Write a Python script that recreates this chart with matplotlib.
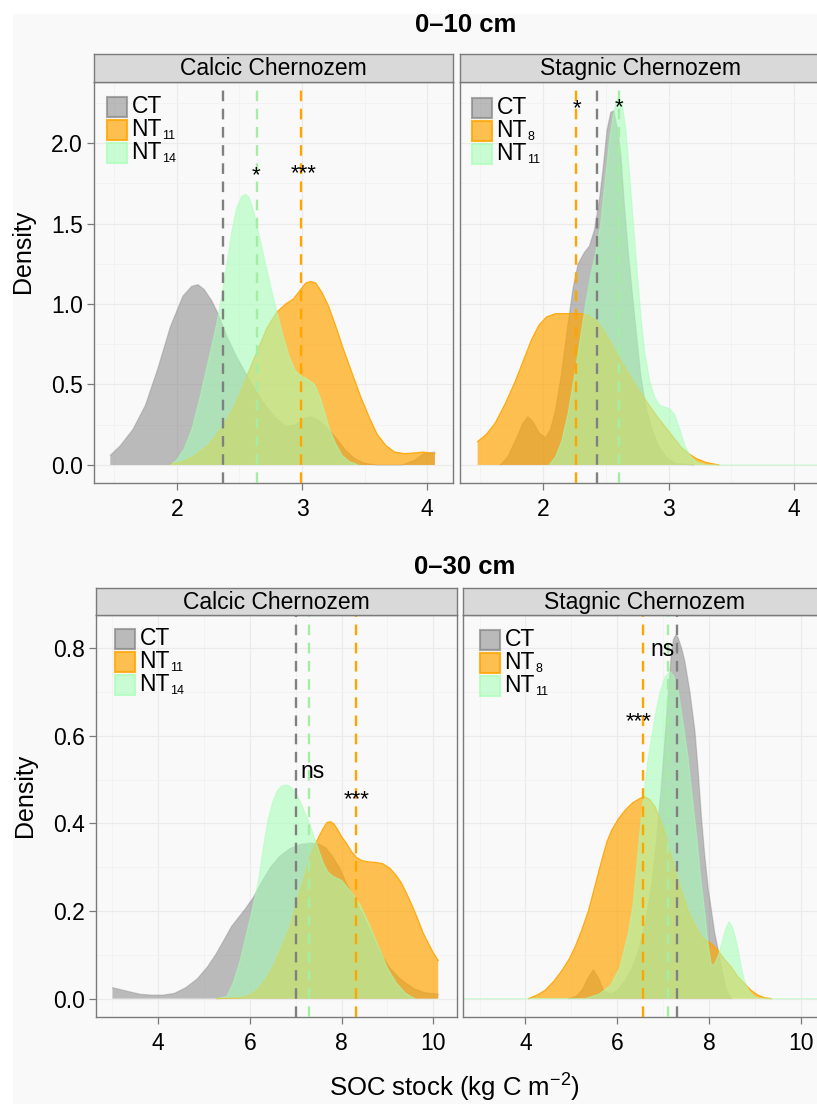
import matplotlib
matplotlib.use("Agg")
import matplotlib.pyplot as plt
from matplotlib.patches import Rectangle

plt.rcParams['font.family'] = ['Liberation Sans', 'DejaVu Sans']

# ------------------------------------------------------------------ data
# 0-10 cm, Calcic Chernozem
t_cal_ct_x = [1.47, 1.55, 1.65, 1.75, 1.85, 1.95, 2.05, 2.12, 2.17, 2.22, 2.28, 2.33, 2.40, 2.48,
              2.58, 2.68, 2.78, 2.87, 2.95, 3.02, 3.07, 3.13, 3.20, 3.27, 3.35, 3.42, 3.50, 3.60,
              3.80, 3.90, 3.97, 4.06]
t_cal_ct_y = [0.06, 0.12, 0.22, 0.37, 0.60, 0.86, 1.05, 1.11, 1.12, 1.09, 1.02, 0.94, 0.80, 0.67,
              0.53, 0.40, 0.30, 0.24, 0.25, 0.29, 0.30, 0.28, 0.23, 0.17, 0.09, 0.04, 0.01, 0.00,
              0.00, 0.03, 0.07, 0.08]
t_cal_nta_x = [1.95, 2.05, 2.15, 2.25, 2.35, 2.45, 2.52, 2.58, 2.65, 2.72, 2.80, 2.87, 2.93, 2.98,
               3.03, 3.07, 3.11, 3.16, 3.21, 3.27, 3.33, 3.40, 3.47, 3.54, 3.60, 3.67, 3.74, 3.82,
               3.90, 3.97, 4.06]
t_cal_nta_y = [0.005, 0.02, 0.06, 0.12, 0.22, 0.35, 0.47, 0.59, 0.72, 0.85, 0.95, 1.00, 1.03, 1.08,
               1.13, 1.14, 1.13, 1.07, 0.99, 0.86, 0.72, 0.57, 0.42, 0.29, 0.19, 0.12, 0.08, 0.07,
               0.075, 0.08, 0.07]
t_cal_ntb_x = [1.95, 2.00, 2.06, 2.12, 2.18, 2.23, 2.28, 2.32, 2.36, 2.40, 2.44, 2.48, 2.52, 2.55,
               2.58, 2.62, 2.66, 2.70, 2.75, 2.80, 2.85, 2.90, 2.95, 3.00, 3.05, 3.10, 3.14, 3.18,
               3.22, 3.27, 3.32, 3.38, 3.45]
t_cal_ntb_y = [0.00, 0.03, 0.10, 0.22, 0.40, 0.57, 0.74, 0.88, 1.05, 1.25, 1.45, 1.60, 1.67, 1.68,
               1.66, 1.56, 1.42, 1.28, 1.11, 0.95, 0.80, 0.67, 0.58, 0.55, 0.53, 0.50, 0.43, 0.33,
               0.22, 0.13, 0.06, 0.02, 0.00]

# 0-10 cm, Stagnic Chernozem
t_sta_ct_x = [1.66, 1.72, 1.78, 1.84, 1.88, 1.92, 1.97, 2.02, 2.06, 2.10, 2.15, 2.20, 2.24, 2.28,
              2.33, 2.37, 2.41, 2.45, 2.48, 2.51, 2.54, 2.565, 2.59, 2.62, 2.65, 2.68, 2.71, 2.74,
              2.78, 2.82, 2.87, 2.92, 2.98, 3.05, 3.20]
t_sta_ct_y = [0.00, 0.05, 0.15, 0.26, 0.30, 0.27, 0.20, 0.17, 0.22, 0.34, 0.58, 0.88, 1.10, 1.25,
              1.32, 1.36, 1.46, 1.65, 1.85, 2.08, 2.19, 2.20, 2.10, 1.93, 1.60, 1.32, 1.08, 0.85,
              0.55, 0.36, 0.22, 0.12, 0.05, 0.01, 0.00]
t_sta_nta_x = [1.48, 1.55, 1.62, 1.70, 1.78, 1.85, 1.91, 1.97, 2.03, 2.10, 2.20, 2.30, 2.36, 2.42,
               2.48, 2.54, 2.61, 2.68, 2.75, 2.82, 2.90, 2.97, 3.04, 3.10, 3.16, 3.22, 3.30, 3.40]
t_sta_nta_y = [0.145, 0.19, 0.26, 0.38, 0.52, 0.66, 0.78, 0.87, 0.92, 0.94, 0.94, 0.94, 0.93, 0.90,
               0.84, 0.76, 0.66, 0.57, 0.48, 0.40, 0.31, 0.24, 0.17, 0.11, 0.07, 0.04, 0.015, 0.00]
t_sta_ntb_x = [2.05, 2.10, 2.15, 2.20, 2.25, 2.30, 2.34, 2.38, 2.42, 2.46, 2.50, 2.53, 2.56, 2.59,
               2.61, 2.63, 2.66, 2.69, 2.72, 2.75, 2.78, 2.81, 2.85, 2.89, 2.93, 2.97, 3.01, 3.05,
               3.09, 3.13, 3.17, 3.22, 3.30, 4.21]
t_sta_ntb_y = [0.00, 0.05, 0.15, 0.32, 0.55, 0.80, 1.00, 1.18, 1.32, 1.50, 1.80, 2.02, 2.18, 2.27,
               2.28, 2.25, 2.08, 1.80, 1.50, 1.20, 0.92, 0.70, 0.52, 0.42, 0.37, 0.36, 0.35, 0.31,
               0.22, 0.12, 0.06, 0.02, 0.00, 0.00]

# 0-30 cm, Calcic Chernozem
b_cal_ct_x = [3.00, 3.20, 3.40, 3.60, 3.85, 4.10, 4.35, 4.60, 4.85, 5.07, 5.25, 5.43, 5.60, 5.75,
              5.90, 6.08, 6.25, 6.45, 6.65, 6.88, 7.10, 7.32, 7.50, 7.65, 7.80, 7.95, 8.10, 8.30,
              8.50, 8.70, 8.90, 9.06, 9.25, 9.42, 9.60, 9.80, 10.11]
b_cal_ct_y = [0.025, 0.020, 0.015, 0.010, 0.008, 0.008, 0.012, 0.025, 0.045, 0.072, 0.100, 0.133,
              0.165, 0.185, 0.205, 0.232, 0.265, 0.300, 0.325, 0.343, 0.352, 0.355, 0.353, 0.345,
              0.325, 0.300, 0.265, 0.225, 0.185, 0.140, 0.095, 0.070, 0.048, 0.034, 0.022, 0.014,
              0.010]
b_cal_nta_x = [5.28, 5.79, 6.00, 6.16, 6.35, 6.52, 6.70, 6.88, 7.03, 7.17, 7.32, 7.46, 7.58, 7.68,
               7.76, 7.84, 7.92, 8.00, 8.11, 8.22, 8.33, 8.45, 8.60, 8.75, 8.90, 9.06, 9.18, 9.30,
               9.42, 9.55, 9.65, 9.78, 9.90, 10.00, 10.11]
b_cal_nta_y = [0.000, 0.002, 0.008, 0.019, 0.045, 0.075, 0.120, 0.165, 0.225, 0.270, 0.325, 0.360,
               0.385, 0.402, 0.404, 0.398, 0.385, 0.370, 0.354, 0.335, 0.322, 0.315, 0.312, 0.311,
               0.308, 0.297, 0.283, 0.265, 0.240, 0.210, 0.185, 0.150, 0.125, 0.105, 0.087]
b_cal_ntb_x = [5.28, 5.50, 5.65, 5.79, 5.93, 6.08, 6.19, 6.30, 6.40, 6.50, 6.60, 6.70, 6.81, 6.90,
               7.00, 7.10, 7.20, 7.30, 7.40, 7.50, 7.60, 7.70, 7.80, 7.90, 8.00, 8.20, 8.40, 8.60,
               8.80, 9.00, 9.20, 9.40, 9.60]
b_cal_ntb_y = [0.000, 0.005, 0.040, 0.088, 0.150, 0.217, 0.270, 0.350, 0.410, 0.450, 0.475, 0.486,
               0.488, 0.482, 0.470, 0.450, 0.425, 0.400, 0.370, 0.340, 0.310, 0.290, 0.280, 0.275,
               0.270, 0.245, 0.215, 0.170, 0.120, 0.070, 0.035, 0.012, 0.000]

# 0-30 cm, Stagnic Chernozem
b_sta_ct_x = [4.94, 5.10, 5.23, 5.35, 5.48, 5.60, 5.70, 5.85, 6.00, 6.17, 6.32, 6.46, 6.60, 6.75,
              6.85, 6.96, 7.04, 7.11, 7.17, 7.22, 7.27, 7.32, 7.40, 7.47, 7.58, 7.69, 7.76, 7.83,
              7.90, 7.98, 8.05, 8.12, 8.19, 8.27, 8.37, 8.48]
b_sta_ct_y = [0.000, 0.005, 0.019, 0.045, 0.066, 0.045, 0.019, 0.010, 0.018, 0.042, 0.070, 0.110,
              0.170, 0.263, 0.360, 0.490, 0.600, 0.700, 0.780, 0.820, 0.830, 0.825, 0.800, 0.770,
              0.700, 0.610, 0.520, 0.415, 0.330, 0.250, 0.200, 0.150, 0.114, 0.070, 0.020, 0.000]
b_sta_nta_x = [4.07, 4.25, 4.43, 4.62, 4.80, 4.95, 5.08, 5.22, 5.37, 5.52, 5.66, 5.78, 5.88, 6.02,
               6.17, 6.33, 6.49, 6.60, 6.70, 6.82, 6.93, 7.04, 7.15, 7.25, 7.40, 7.54, 7.68, 7.83,
               7.98, 8.10, 8.19, 8.33, 8.48, 8.62, 8.77, 8.92, 9.06, 9.20, 9.35]
b_sta_nta_y = [0.000, 0.008, 0.019, 0.040, 0.065, 0.090, 0.118, 0.155, 0.200, 0.260, 0.316, 0.360,
               0.385, 0.410, 0.430, 0.447, 0.457, 0.461, 0.455, 0.438, 0.410, 0.377, 0.335, 0.293,
               0.245, 0.200, 0.170, 0.141, 0.130, 0.120, 0.110, 0.090, 0.072, 0.050, 0.034, 0.018,
               0.008, 0.002, 0.000]
b_sta_ntb_x = [2.66, 5.30, 5.60, 5.85, 6.05, 6.24, 6.35, 6.42, 6.50, 6.57, 6.66, 6.75, 6.84, 6.93,
               7.04, 7.15, 7.24, 7.33, 7.43, 7.54, 7.63, 7.72, 7.81, 7.90, 7.98, 8.05, 8.12, 8.20,
               8.27, 8.36, 8.43, 8.50, 8.57, 8.63, 8.70, 8.77, 8.88, 8.99, 9.10, 10.52]
b_sta_ntb_y = [0.000, 0.000, 0.010, 0.030, 0.070, 0.150, 0.220, 0.300, 0.390, 0.460, 0.540, 0.600,
               0.655, 0.700, 0.735, 0.747, 0.735, 0.700, 0.630, 0.550, 0.460, 0.377, 0.280, 0.200,
               0.120, 0.075, 0.080, 0.100, 0.125, 0.160, 0.175, 0.165, 0.140, 0.110, 0.070, 0.040,
               0.015, 0.004, 0.000, 0.000]

# group means (dashed lines): CT, NT-a (orange), NT-b (green)
t_cal_means = [2.372, 2.991, 2.643]
t_sta_means = [2.430, 2.263, 2.603]
b_cal_means = [7.00, 8.31, 7.29]
b_sta_means = [7.29, 6.567, 7.095]

# legend labels (name, subscript)
cal_labels = [("CT", ""), ("NT", "11"), ("NT", "14")]
sta_labels = [("CT", ""), ("NT", "8"), ("NT", "11")]

# significance annotations: (text, x, y)
t_cal_annot = [("*", 2.63, 1.836), ("***", 3.01, 1.846)]
t_sta_annot = [("*", 2.268, 2.251), ("*", 2.605, 2.261)]
b_cal_annot = [("ns", 7.11, 0.503), ("***", 8.33, 0.4686)]
b_sta_annot = [("ns", 6.71, 0.782), ("***", 6.46, 0.6476)]

strip_titles = ["Calcic Chernozem", "Stagnic Chernozem"]
depth_titles = ["0\u201310 cm", "0\u201330 cm"]
x_label = "SOC stock (kg C m$^{\\mathregular{\u22122}}$)"
y_label = "Density"

# ------------------------------------------------------------------ style
plt.rcParams['mathtext.fontset'] = 'custom'
plt.rcParams['mathtext.rm'] = 'Liberation Sans'
plt.rcParams['mathtext.it'] = 'Liberation Sans'
plt.rcParams['mathtext.default'] = 'regular'

W, H = 817, 1104
fig = plt.figure(figsize=(W / 100, H / 100), dpi=100)
fig.patch.set_facecolor('white')
fig.add_artist(Rectangle((13 / W, 0), 1, 1 - 14 / H, transform=fig.transFigure,
                         facecolor='#F9F9F9', edgecolor='none', zorder=-10))

BG = '#F9F9F9'
FRAME = '#7A7A7A'
C_CT, C_A, C_B = '#808080', '#FFA500', '#A8FFB8'
A_CT, A_A, A_B = 0.52, 0.68, 0.58
LINE_A = [0.35, 0.9, 0.5]


def rect_axes(l, t, r, b, **kw):
    return fig.add_axes([l / W, 1 - b / H, (r - l) / W, (b - t) / H], **kw)


def draw_panel(box, strip_top, xlim, ylim, xmaj, xmin, ymaj, ymin, curves, means,
               labels, annots, leg_off, strip_text, show_ylabels):
    l, t, r, b = box
    ax = rect_axes(l, t, r, b)
    ax.set_facecolor(BG)
    ax.set_xlim(*xlim)
    ax.set_ylim(*ylim)
    ax.set_xticks(xmaj)
    ax.set_xticks(xmin, minor=True)
    ax.set_yticks(ymaj)
    ax.set_yticks(ymin, minor=True)
    ax.grid(True, which='major', color='#EBEBEB', lw=0.9, zorder=0)
    ax.grid(True, which='minor', color='#F1F1F1', lw=0.6, zorder=0)
    ax.set_axisbelow(True)
    for s in ax.spines.values():
        s.set_color(FRAME)
        s.set_linewidth(1.0)
    ax.tick_params(which='major', length=5, width=0.9, color=FRAME, labelsize=16.5,
                   labelcolor='black')
    ax.tick_params(axis='x', which='major', pad=5.5)
    ax.tick_params(axis='y', which='major', pad=3)
    ax.tick_params(which='minor', length=0)
    if show_ylabels:
        ax.set_yticklabels([f"{v:.1f}" for v in ymaj])
    else:
        ax.set_yticklabels([])
        ax.tick_params(axis='y', which='major', length=0)
    ax.set_xticklabels([f"{v:g}" for v in xmaj])

    cols = [C_CT, C_A, C_B]
    alphas = [A_CT, A_A, A_B]
    for (x, y), c, a, la in zip(curves, cols, alphas, LINE_A):
        ax.fill_between(x, 0, y, facecolor=c, alpha=a, lw=0, zorder=2)
        ax.plot(x, y, color=c, lw=0.9, alpha=la, zorder=2)
    dash_cols = ['#808080', '#FFA500', '#A5EDA5']
    for m, c in zip(means, dash_cols):
        ax.axvline(m, color=c, lw=1.7, ls=(0, (4.5, 3.2)), zorder=4)
    for txt, x, y in annots:
        if txt == 'ns':
            ax.text(x, y, txt, fontsize=16.5, ha='left', va='baseline', zorder=6)
        else:
            ax.annotate(txt, xy=(x, y), xytext=(0, -8.5), textcoords='offset points',
                        fontsize=16, ha='center', va='baseline', zorder=6)

    # legend
    lx, ly = leg_off
    pw, ph = r - l, b - t
    size, step = 19.5, 23
    for i, ((name, sub), c, a) in enumerate(zip(labels, cols, alphas)):
        top = ly + i * step
        ax.add_patch(Rectangle((lx / pw, 1 - (top + size) / ph), size / pw, size / ph,
                               transform=ax.transAxes, facecolor=c, alpha=a,
                               edgecolor='none', clip_on=False, zorder=7))
        ax.add_patch(Rectangle((lx / pw, 1 - (top + size) / ph), size / pw, size / ph,
                               transform=ax.transAxes, facecolor='none', edgecolor=c,
                               alpha=min(1, a + 0.15), lw=1.5, clip_on=False, zorder=7))
        tt = ax.text((lx + size + 5) / pw, 1 - (top + size / 2) / ph, name,
                     transform=ax.transAxes, fontsize=16.5, ha='left', va='center', zorder=8)
        if sub:
            ax.annotate(sub, xy=(1, 0), xycoords=tt, xytext=(0.3, -0.5),
                        textcoords='offset points', fontsize=9, ha='left', va='bottom',
                        zorder=8)

    # strip
    sax = rect_axes(l, strip_top, r, t)
    sax.set_facecolor('#D9D9D9')
    sax.set_xticks([])
    sax.set_yticks([])
    for s in sax.spines.values():
        s.set_color(FRAME)
        s.set_linewidth(1.0)
    sax.text(0.5, 0.47, strip_text, transform=sax.transAxes, ha='center', va='center',
             fontsize=16.5)
    return ax


top_xlim = (1.34, 4.205)
top_ylim = (-0.112, 2.379)
bot_xlim = (2.64, 10.52)
bot_ylim = (-0.042, 0.876)
top_xmaj, top_xmin = [2, 3, 4], [1.5, 2.5, 3.5]
top_ymaj, top_ymin = [0.0, 0.5, 1.0, 1.5, 2.0], [0.25, 0.75, 1.25, 1.75, 2.25]
bot_xmaj, bot_xmin = [4, 6, 8, 10], [3, 5, 7, 9]
bot_ymaj, bot_ymin = [0.0, 0.2, 0.4, 0.6, 0.8], [0.1, 0.3, 0.5, 0.7]

draw_panel((94, 82, 453, 483), 54, top_xlim, top_ylim, top_xmaj, top_xmin, top_ymaj, top_ymin,
           [(t_cal_ct_x, t_cal_ct_y), (t_cal_nta_x, t_cal_nta_y), (t_cal_ntb_x, t_cal_ntb_y)],
           t_cal_means, cal_labels, t_cal_annot, (13, 15), strip_titles[0], True)
draw_panel((460, 82, 820, 483), 54, top_xlim, top_ylim, top_xmaj, top_xmin, top_ymaj, top_ymin,
           [(t_sta_ct_x, t_sta_ct_y), (t_sta_nta_x, t_sta_nta_y), (t_sta_ntb_x, t_sta_ntb_y)],
           t_sta_means, sta_labels, t_sta_annot, (12, 16), strip_titles[1], False)
draw_panel((96, 615, 457, 1017), 588, bot_xlim, bot_ylim, bot_xmaj, bot_xmin, bot_ymaj, bot_ymin,
           [(b_cal_ct_x, b_cal_ct_y), (b_cal_nta_x, b_cal_nta_y), (b_cal_ntb_x, b_cal_ntb_y)],
           b_cal_means, cal_labels, b_cal_annot, (19, 14), strip_titles[0], True)
draw_panel((463, 615, 825, 1017), 588, bot_xlim, bot_ylim, bot_xmaj, bot_xmin, bot_ymaj, bot_ymin,
           [(b_sta_ct_x, b_sta_ct_y), (b_sta_nta_x, b_sta_nta_y), (b_sta_ntb_x, b_sta_ntb_y)],
           b_sta_means, sta_labels, b_sta_annot, (17, 15), strip_titles[1], False)

fig.text(466 / W, 1 - 25 / H, depth_titles[0], ha='center', va='center', fontsize=18.5,
         fontweight='bold')
fig.text(465 / W, 1 - 567 / H, depth_titles[1], ha='center', va='center', fontsize=18.5,
         fontweight='bold')
fig.text(23 / W, 1 - 251 / H, y_label, rotation=90, ha='center', va='center', fontsize=18)
fig.text(25 / W, 1 - 795 / H, y_label, rotation=90, ha='center', va='center', fontsize=18)
fig.text(454 / W, 1 - 1088 / H, x_label, ha='center', va='center', fontsize=18.5)

fig.savefig('out.png', dpi=100, facecolor=fig.get_facecolor())
